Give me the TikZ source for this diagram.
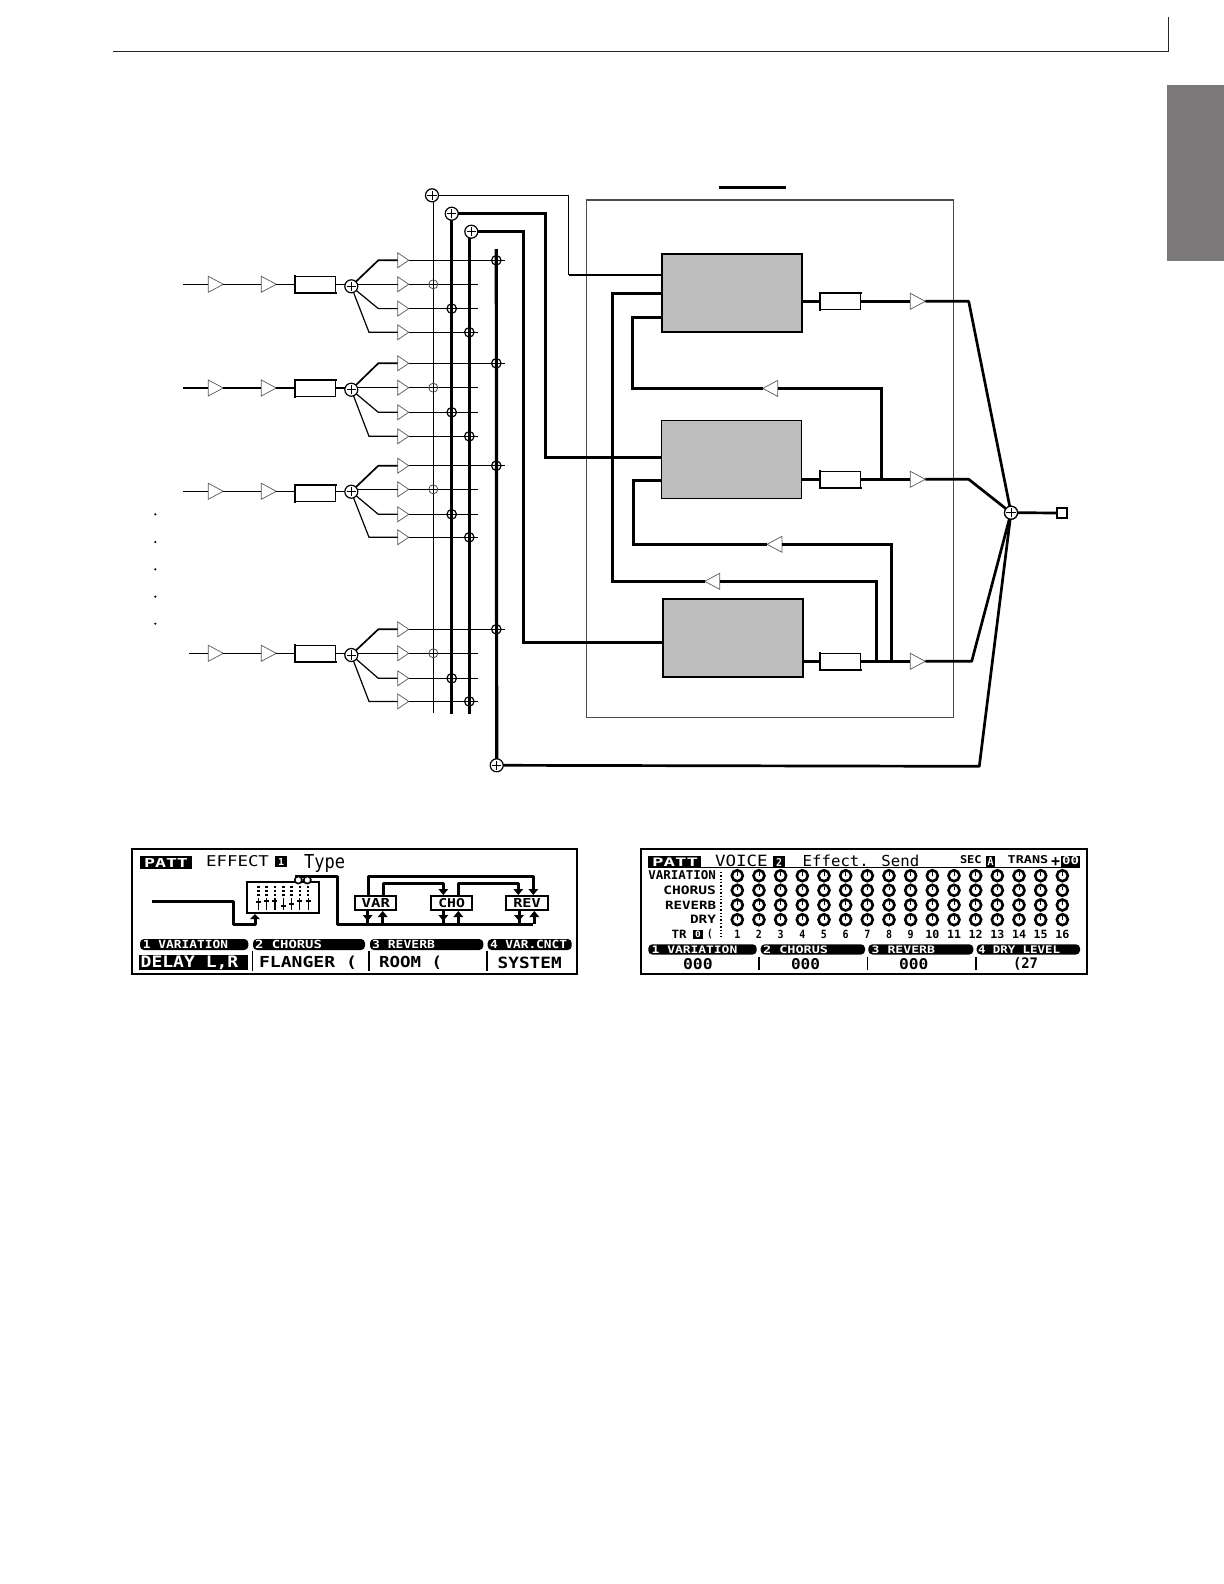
\documentclass[tikz,border=0pt]{standalone}
\usepackage{fontspec}
\usepackage{graphicx}
\usetikzlibrary{shapes.geometric,calc}
\newfontfamily\lcdf{DejaVu Sans Mono}
\definecolor{tabgrey}{HTML}{7B7979}
\def\pxu{0.5pt}
\newcommand\lcdtxt[7][]{%
  \pgfmathsetlengthmacro\ltw{((#4)-(#3))*\pxu}%
  \pgfmathsetlengthmacro\lth{((#6)-(#5))*\pxu}%
  \node[lcdtext,#1] (#2) at ({((#3)+(#4))/2},{((#5)+(#6))/2}) {\resizebox{\ltw}{\lth}{#7}};}
\newcommand\lcdpill[4]{\fill[rounded corners=2pt] (#1,#3) rectangle (#2,#4);}
\newcommand\lcdhead[3]{\fill (#1-5,#2) -- (#1+5,#2) -- (#1,#2+#3) -- cycle;}
\tikzset{
  lcdtext/.style={inner sep=0,outer sep=0,font=\lcdf\bfseries},
  lcdthin/.style={inner sep=0,outer sep=0,font=\lcdf},
  amp/.style={shape=isosceles triangle,isosceles triangle stretches,draw=black!65,fill=white,
    line width=0.35pt,inner sep=0,outer sep=0,anchor=lower side,shape border rotate=0},
  ampS/.style={amp,minimum width=15*\pxu,minimum height=11*\pxu},
  ampB/.style={amp,minimum width=16*\pxu,minimum height=15*\pxu},
  ampL/.style={amp,minimum width=16*\pxu,minimum height=15*\pxu,shape border rotate=180},
  sumnode/.style={circle,draw,fill=white,line width=0.6pt,minimum size=13*\pxu,inner sep=0,outer sep=0,
    path picture={\draw[line width=0.45pt]
      ([xshift=-2.3pt]path picture bounding box.center) -- ([xshift=2.3pt]path picture bounding box.center)
      ([yshift=-2.3pt]path picture bounding box.center) -- ([yshift=2.3pt]path picture bounding box.center);}},
  junc/.style={circle,draw,line width=0.6pt,minimum size=9.5*\pxu,inner sep=0,outer sep=0},
  juncT/.style={junc,draw=black!70,line width=0.4pt,minimum size=9*\pxu},
  gainbox/.style={rectangle,draw,fill=white,line width=0.55pt,inner sep=0,outer sep=0,minimum width=41*\pxu,minimum height=17*\pxu},
  fxbox/.style={rectangle,draw,fill=black!26,line width=0.9pt,inner sep=0,outer sep=0,minimum width=140*\pxu,minimum height=78*\pxu},
  boxedge/.style={line width=1pt,line cap=rect},
  sig/.style={line width=0.6pt},
  bus/.style={line width=1.6pt},
  main/.style={line width=1.35pt},
  branch/.style={line width=0.6pt},
  lcdwire/.style={line width=1.5pt,line join=round},
  lcdframe/.style={draw,line width=1pt,fill=white},
}
\begin{document}
\begin{tikzpicture}[x=0.5pt,y=-0.5pt]
\fill[white] (0,0) rectangle (1224,1584);
\useasboundingbox (0,0) rectangle (1224,1584);
% page furniture
\draw[line width=0.6pt,black!85] (113,51.7) -- (1168.3,51.7) -- (1168.3,17);
\fill[tabgrey] (1167,85) rectangle (1224,260.7);
% effect block frame and title rule
\draw[line width=0.65pt,black!70] (586.7,200) rectangle (953.3,717.3);
\draw[line width=1.5pt] (719,187.3) -- (786,187.3);
% named end points
\coordinate (b1b) at (433.3,712.7);
\coordinate (b2b) at (451.7,713.7);
\coordinate (b3b) at (469.3,713.7);
\coordinate (b4t) at (496.3,249);
% return sums
\node[sumnode] (s1) at (432,195.3) {};
\node[sumnode] (s2) at (451.7,213.7) {};
\node[sumnode] (s3) at (471.3,231.7) {};
\node[sumnode] (s4) at (496.7,765.3) {};
\node[sumnode] (sout) at (1011,512.7) {};
\node[rectangle,draw,line width=1pt,inner sep=0,outer sep=0,minimum size=10.6*\pxu] (jack) at (1062,513) {};
% buses
\draw[sig] (b1b |- s1.south) -- (b1b);
\draw[bus] (s2.south) -- (b2b);
\draw[bus] (b3b |- s3.south) -- (b3b);
\draw[bus] (b4t) -- (s4.north);
% input strips
\foreach \r/\iy/\sx/\bc/\sy/\ya/\yb/\yc/\yd/\iw in {
  1/284.3/183.3/284.8/286.3/260.3/284.3/308.6/332.3/0.6pt,
  2/388/183.3/388.2/389.7/363.3/387.7/412.3/436.3/1.1pt,
  3/491.3/183.3/493.2/491.7/465.7/489.3/514.3/537.3/0.6pt,
  4/653.3/189.3/653.7/655/629.3/653.3/678.3/701.4/0.6pt}{
  \coordinate (in\r) at (\sx,\iy);
  \node[ampB] (ta\r) at (208.3,\iy) {};
  \node[ampB] (tb\r) at (261.3,\iy) {};
  \node[gainbox] (g\r) at (315.2,\bc) {};
  \node[sumnode] (ms\r) at (351.3,\sy) {};
  \draw[line width=\iw] (in\r) -- (ta\r.lower side);
  \draw[line width=\iw] (ta\r.apex) -- (tb\r.lower side);
  \draw[line width=\iw] (tb\r.apex) -- (tb\r.apex -| g\r.west);
  \draw[line width=\iw] (tb\r.apex -| g\r.east) -- (tb\r.apex -| ms\r.west);
  \node[ampS] (ra\r) at (397.7,\ya) {};
  \node[ampS] (rb\r) at (397.7,\yb) {};
  \node[ampS] (rc\r) at (397.7,\yc) {};
  \node[ampS] (rd\r) at (397.7,\yd) {};
  \draw[line width=0.85pt] (ms\r.45) -- (378.3,\ya) -- (ra\r.lower side);
  \draw[branch] (rb\r.lower side -| ms\r.east) -- (rb\r.lower side);
  \draw[branch] (ms\r.-40) -- (378.3,\yc) -- (rc\r.lower side);
  \draw[branch] (ms\r.-70) -- (369,\yd) -- (rd\r.lower side);
  \coordinate (ea\r) at (505,\ya);
  \coordinate (eb\r) at (477.7,\yb);
  \coordinate (ec\r) at (477.7,\yc);
  \coordinate (ed\r) at (477.7,\yd);
  \draw[branch] (ra\r.apex) -- (ea\r);
  \draw[branch] (rb\r.apex) -- (eb\r);
  \draw[branch] (rc\r.apex) -- (ec\r);
  \draw[branch] (rd\r.apex) -- (ed\r);
  \node[junc] (ja\r) at (b4t |- ra\r.apex) {};
  \node[juncT] (jb\r) at (b1b |- rb\r.apex) {};
  \node[junc] (jc\r) at (b2b |- rc\r.apex) {};
  \node[junc] (jd\r) at (b3b |- rd\r.apex) {};
}
% heavier edges of the gain boxes
\draw[boxedge] (g1.north west) -- (g1.south west) -- (g1.south east);
\draw[boxedge] (g2.south west) -- (g2.north west) -- (g2.north east);
\draw[boxedge] (g3.south west) -- (g3.north west) -- (g3.north east);
\draw[boxedge] (g4.north west) -- (g4.south west) -- (g4.south east);
% the dots between strips
\foreach \d [count=\n] in {514.3,542,569.3,596.7,623.7}
  \fill (155.3,\d) circle[radius=1.2];
% effect blocks
\node[fxbox] (fx1) at (731.7,293) {};
\node[fxbox,line width=0.7pt] (fx2) at (731.7,459.3) {};
\node[fxbox] (fx3) at (733.3,637.8) {};
\node[gainbox] (o1) at (840.2,301) {};
\node[gainbox] (o2) at (840.2,479.8) {};
\node[gainbox] (o3) at (840.2,661.6) {};
\draw[boxedge] (o1.south west) -- (o1.north west) -- (o1.north east);
\draw[boxedge] (o2.north west) -- (o2.south west) -- (o2.south east);
\draw[boxedge] (o3.north west) -- (o3.south west) -- (o3.south east);
\node[ampB] (oa1) at (910.3,301.3) {};
\node[ampB] (oa2) at (910.3,479.3) {};
\node[ampB] (oa3) at (910.3,661.3) {};
\node[ampL] (fa) at (719.7,581.3) {};
\node[ampL] (fb) at (777.7,388.4) {};
\node[ampL] (fc) at (782,544.3) {};
% sends into the blocks
\coordinate (w1a) at (568.7,195.3);
\coordinate (w1b) at (568.7,275);
\coordinate (w2a) at (545.7,213.7);
\coordinate (w2b) at (545.7,457.3);
\coordinate (w3a) at (523.3,231.7);
\coordinate (w3b) at (523.3,642.3);
\draw[line width=0.6pt] (s1.east) -- (w1a) -- (w1b);
\draw[line width=1pt] (w1b) -- (w1b -| fx1.west);
\draw[main] (s2.east) -- (w2a) -- (w2b) -- (w2b -| fx2.west);
\draw[main] (s3.east) -- (w3a) -- (w3b) -- (w3b -| fx3.west);
% block outputs
\foreach \k in {1,2,3}{
  \draw[main] (oa\k.lower side -| fx\k.east) -- (oa\k.lower side -| o\k.west);
  \draw[main] (oa\k.lower side -| o\k.east) -- (oa\k.lower side);
}
\coordinate (k1) at (968.7,301.3);
\coordinate (k2) at (968.7,479.3);
\coordinate (k3) at (971.7,661.3);
\coordinate (k4) at (979.3,766.3);
\draw[main,line join=round] (oa1.apex) -- (k1) -- (sout);
\draw[main,line join=round] (oa2.apex) -- (k2) -- (sout);
\draw[main,line join=round] (oa3.apex) -- (k3) -- (sout);
\draw[main,line join=round] (s4.east) -- (k4) -- (sout);
\node[sumnode] (soutb) at (sout) {};
\draw[main] (soutb.east) -- (jack.west);
% feedback routes
\coordinate (a1) at (612.3,293.7);
\coordinate (a2) at (612.3,581.3);
\coordinate (a3) at (876.3,581.3);
\coordinate (a4) at (876.3,661.3);
\draw[main] (fx1.west |- a1) -- (a1) -- (a2) -- (fa.apex);
\draw[main] (fa.lower side) -- (a3) -- (a4);
\coordinate (fbk1) at (632.5,317.4);
\coordinate (fbk2) at (632.5,388.4);
\coordinate (fbk3) at (881.7,388.4);
\coordinate (fbk4) at (881.7,479.3);
\draw[main] (fx1.west |- fbk1) -- (fbk1) -- (fbk2) -- (fb.apex);
\draw[main] (fb.lower side) -- (fbk3) -- (fbk4);
\coordinate (d1) at (633.3,480.7);
\coordinate (d2) at (633.3,544.3);
\coordinate (d3) at (891.7,544.3);
\coordinate (d4) at (891.7,661.3);
\draw[main] (fx2.west |- d1) -- (d1) -- (d2) -- (fc.apex);
\draw[main] (fc.lower side) -- (d3) -- (d4);

% ---------- LCD 1 ----------
\draw[lcdframe] (131.7,849) rectangle (576.7,974);
\fill (140,856) rectangle (191.7,869);
\lcdtxt[text=white]{l1a}{144}{188}{858}{867}{PATT}
\lcdtxt[lcdthin]{l1b}{206}{269}{856}{867}{EFFECT}
\fill (275,856) rectangle (286.7,867);
\lcdtxt[text=white]{l1c}{278}{284}{858}{865}{1}
\lcdtxt[lcdthin]{l1d}{304}{345}{856}{870}{Type}
\draw[lcdwire] (152.3,901.7) -- (233.3,901.7) -- (233.3,924.3) -- (255,924.3) -- (255,916);
\lcdhead{255}{919}{-5}
\draw[line width=0.9pt] (246.7,882.3) rectangle (319.3,913.3);
\foreach \cx in {0,...,6}{
  \foreach \cy in {887.3,891.3,895.3}
    \fill (258.3+\cx*8.3-1.3,\cy-1.1) rectangle (258.3+\cx*8.3+1.3,\cy+1.1);
  \draw[line width=0.6pt] (258.3+\cx*8.3,898) -- (258.3+\cx*8.3,910);
}
\foreach \cx/\ty in {0/902,1/901,2/901,3/906,4/904,5/901,6/901}
  \draw[line width=0.6pt] (258.3+\cx*8.3-2.5,\ty) -- (258.3+\cx*8.3+2.5,\ty);
\draw[lcdwire] (295,876.7) -- (337.3,876.7) -- (337.3,924.3) -- (533.3,924.3);
\draw[line width=0.8pt,fill=white] (298.3,880) circle[radius=3.6] (307.3,880) circle[radius=3.6];
\draw[lcdwire] (368.3,896) -- (368.3,876) -- (533.3,876) -- (533.3,890);
\draw[lcdwire] (383.3,896) -- (383.3,883.3) -- (443.3,883.3) -- (443.3,890);
\draw[lcdwire] (458.3,896) -- (458.3,883.3) -- (518.3,883.3) -- (518.3,890);
\foreach \ax in {443.3,518.3,533.3}{\lcdhead{\ax}{889}{6}}
\foreach \bx/\bl/\bn in {355/396/VAR,430.7/472.3/CHO,506/548.3/REV}
  \draw[line width=0.9pt,fill=white] (\bx,896) rectangle (\bl,910);
\lcdtxt{l1e}{361.7}{390}{898.3}{907.3}{VAR}
\lcdtxt{l1f}{438.3}{465}{898.3}{907.3}{CHO}
\lcdtxt{l1g}{513.3}{540.7}{898.3}{907.3}{REV}
\foreach \ax in {367.7,443.3,519}{
  \draw[lcdwire] (\ax,910) -- (\ax,924);
  \lcdhead{\ax}{915}{6}}
\foreach \ax in {382.7,458.3,534.3}{
  \draw[lcdwire] (\ax,913) -- (\ax,924);
  \lcdhead{\ax}{917}{-6}}
\lcdpill{140}{248.3}{939}{950}
\lcdpill{253}{365}{939}{950}
\lcdpill{370}{483.3}{939}{950}
\lcdpill{487.7}{571.7}{939}{950}
\lcdtxt[text=white]{l1h}{143}{228}{940.7}{949}{1 VARIATION}
\lcdtxt[text=white]{l1i}{255}{322}{940.7}{949}{2 CHORUS}
\lcdtxt[text=white]{l1j}{372}{435}{940.7}{949}{3 REVERB}
\lcdtxt[text=white]{l1k}{490}{567}{940.7}{949}{4 VAR.CNCT}
\fill (139,955) rectangle (248,970);
\lcdtxt[text=white]{l1l}{140.7}{238.3}{957}{968.5}{DELAY L,R}
\lcdtxt{l1m}{259}{357}{957}{968.5}{FLANGER (}
\lcdtxt{l1n}{379}{442}{957}{968.5}{ROOM (}
\lcdtxt{l1o}{497.7}{561.7}{957}{968.5}{SYSTEM}
\foreach \dx in {252.3,369,486.7}
  \draw[line width=0.8pt] (\dx,950.7) -- (\dx,970.7);

% ---------- LCD 2 ----------
\draw[lcdframe] (640.7,849) rectangle (1086.7,974);
\fill (648.3,855.7) rectangle (701,867.7);
\lcdtxt[text=white]{l2a}{652}{698}{857.5}{866}{PATT}
\draw[line width=0.5pt] (701,867.7) -- (1080,867.7);
\lcdtxt[lcdthin]{l2b}{715}{767.7}{855.5}{867}{VOICE}
\fill (773,856) rectangle (785,867.7);
\lcdtxt[text=white]{l2c}{776}{782}{858}{866}{2}
\lcdtxt[lcdthin]{l2d}{802.7}{919.3}{855.5}{867}{Effect. Send}
\lcdtxt{l2e}{960}{981.7}{855.5}{863.5}{SEC}
\fill (986,855.7) rectangle (995,866.7);
\lcdtxt[text=white]{l2f}{987.5}{993.5}{857}{865}{A}
\lcdtxt{l2g}{1007.7}{1048.3}{855.5}{863.5}{TRANS}
\lcdtxt{l2h}{1051}{1060}{857}{866}{+}
\fill (1060.5,855.7) rectangle (1080,866.7);
\lcdtxt[text=white]{l2i}{1062}{1079}{857}{865}{00}
\lcdtxt{l2j}{648.3}{716}{871}{880}{VARIATION}
\lcdtxt{l2k}{663.3}{716}{885.7}{894.3}{CHORUS}
\lcdtxt{l2l}{665}{716}{900.7}{909}{REVERB}
\lcdtxt{l2m}{690}{716}{915.3}{923.7}{DRY}
\lcdtxt{l2n}{671.7}{686.7}{930}{938.3}{TR}
\fill (693,929.5) rectangle (702.7,939);
\lcdtxt[text=white]{l2o}{695}{700.7}{931}{937.5}{0}
\lcdtxt{l2p}{707}{712.7}{930}{938.3}{(}
\draw[line width=0.7pt,dash pattern=on 0.7pt off 1pt] (721,871.7) -- (721,936.7);
\foreach \c in {0,...,15}{
  \foreach \ry in {875.7,890.3,905,919.7}{
    \draw[line width=1.3pt] (737.3+\c*21.67,\ry) circle[radius=5.5];
    \draw[line width=0.45pt] (737.3+\c*21.67,\ry) -- ++(0,-3.6);
  }
}
\foreach \n [count=\i from 0] in {1,...,9}{
  \lcdtxt{n\n}{737.3+\i*21.67-3}{737.3+\i*21.67+3}{930}{938.3}{\n}
}
\foreach \n [count=\i from 9] in {10,...,16}{
  \lcdtxt{n\n}{737.3+\i*21.67-7}{737.3+\i*21.67+7}{930}{938.3}{\n}
}
\lcdpill{648.3}{756.7}{944.3}{954.5}
\lcdpill{760.7}{865}{944.3}{954.5}
\lcdpill{868.3}{973.3}{944.3}{954.5}
\lcdpill{976.7}{1080}{944.3}{954.5}
\lcdtxt[text=white]{l2q}{651.7}{737.3}{945.7}{953.3}{1 VARIATION}
\lcdtxt[text=white]{l2r}{763}{828}{945.7}{953.3}{2 CHORUS}
\lcdtxt[text=white]{l2s}{871.7}{935}{945.7}{953.3}{3 REVERB}
\lcdtxt[text=white]{l2t}{978}{1060}{945.7}{953.3}{4 DRY LEVEL}
\lcdtxt{l2u}{683}{712.7}{958.3}{969.3}{000}
\lcdtxt{l2v}{791}{820}{958.3}{969.3}{000}
\lcdtxt{l2w}{899}{928.3}{958.3}{969.3}{000}
\lcdtxt{l2x}{1013}{1038}{958.3}{969.3}{(27}
\foreach \dx in {759,867.3,976}
  \draw[line width=0.8pt] (\dx,956.7) -- (\dx,970);
\end{tikzpicture}
\end{document}
